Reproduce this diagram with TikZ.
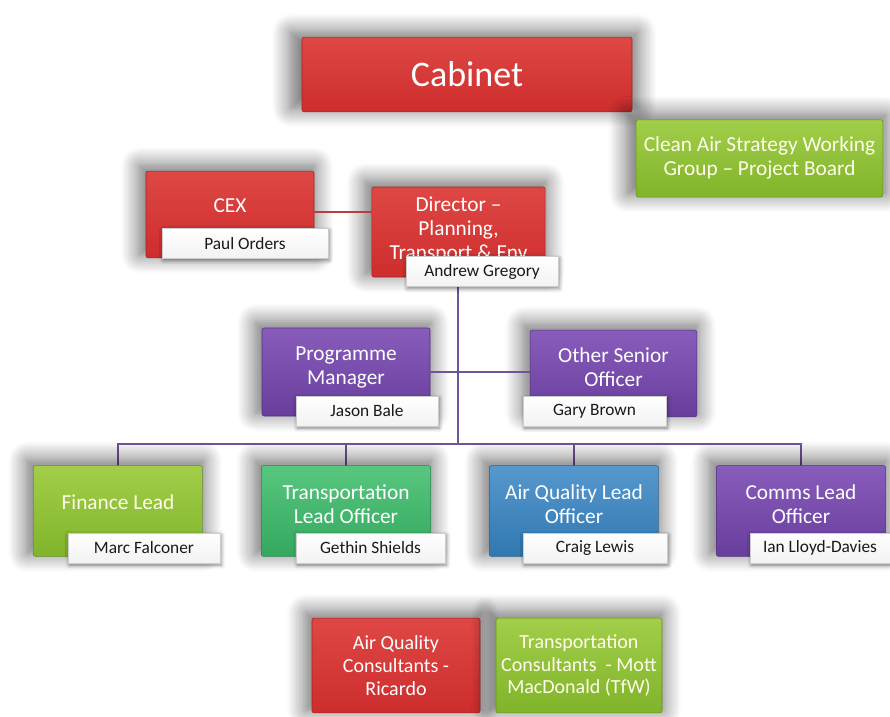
\documentclass[tikz,border=0pt]{standalone}
\usepackage{fontspec}
\setmainfont{Carlito}
\usetikzlibrary{shadows.blur}

\definecolor{boxred}{RGB}{205,45,45}
\definecolor{boxredtop}{RGB}{222,72,68}
\definecolor{boxgreen}{RGB}{128,180,42}
\definecolor{boxgreentop}{RGB}{162,206,74}
\definecolor{boxteal}{RGB}{52,168,96}
\definecolor{boxtealtop}{RGB}{88,198,126}
\definecolor{boxblue}{RGB}{48,120,176}
\definecolor{boxbluetop}{RGB}{86,152,206}
\definecolor{boxpurple}{RGB}{104,62,156}
\definecolor{boxpurpletop}{RGB}{136,92,186}
\definecolor{linkpurple}{RGB}{112,84,152}
\definecolor{linkred}{RGB}{190,60,60}

\tikzset{
  orgbox/.style={rectangle, rounded corners=1.5pt, inner sep=2pt, align=center,
    text=white, font=\fontsize{16}{18}\selectfont,
    blur shadow={shadow blur steps=10, shadow blur radius=12pt, shadow xshift=-2pt,
      shadow yshift=3pt, shadow opacity=55, shadow scale=1.06}},
  redbox/.style={orgbox, top color=boxredtop, bottom color=boxred, draw=boxred!80!black},
  greenbox/.style={orgbox, top color=boxgreentop, bottom color=boxgreen, draw=boxgreen!80!black, text=white!92!yellow},
  tealbox/.style={orgbox, top color=boxtealtop, bottom color=boxteal, draw=boxteal!80!black},
  bluebox/.style={orgbox, top color=boxbluetop, bottom color=boxblue, draw=boxblue!80!black},
  purplebox/.style={orgbox, top color=boxpurpletop, bottom color=boxpurple, draw=boxpurple!80!black},
  namebox/.style={rectangle, inner sep=1pt, minimum height=22.5pt, text=black!90,
    top color=white, bottom color=black!5!white, draw=black!20,
    font=\fontsize{13}{15}\selectfont,
    blur shadow={shadow blur steps=5, shadow blur radius=3pt, shadow xshift=1pt,
      shadow yshift=-1.5pt, shadow opacity=45}},
  link/.style={line width=1.2pt, color=linkpurple}
}

\begin{document}
\begin{tikzpicture}[x=0.75pt,y=0.75pt,yscale=-1,xscale=1]
\useasboundingbox (0,0) rectangle (890,717);

% Connector lines
\coordinate (bus) at (458,444);
\coordinate (dirtrunk) at (458,280);
\draw [link] (dirtrunk) -- (bus);
\draw [link] (118,466) |- (bus) -| (801,466);
\draw [link] (346,466) -- (346,444);
\draw [link] (574,466) -- (574,444);

% Top level
\node [redbox, minimum width=247.5pt, minimum height=56pt, font=\fontsize{27}{30}\selectfont] (cabinet) at (467,74.5) {Cabinet};
\node [greenbox, minimum width=185pt, minimum height=58pt, text depth=4pt] (board) at (759.5,158.5) {Clean Air Strategy Working\\Group -- Project Board};

% CEX and Director
\node [redbox, minimum width=126pt, minimum height=65pt, text depth=14pt] (cex) at (230,214.5) {CEX};
\node [redbox, minimum width=130pt, minimum height=67.5pt, text depth=6pt] (director) at (458.5,232) {Director --\\Planning,\\Transport \& Env};
\draw [linkred, line width=1.4pt] (cex.east |- 0,212) -- (director.west |- 0,212);
\node [namebox, minimum width=124.5pt] (cexname) at (245,243.5) {Paul Orders};
\node [namebox, minimum width=114pt] (dirname) at (482,271.5) {Andrew Gregory};

% Second level
\node [purplebox, minimum width=126pt, minimum height=66pt, text depth=10pt] (progmgr) at (346,372) {Programme\\Manager};
\node [purplebox, minimum width=125pt, minimum height=65pt, text depth=10pt] (senior) at (613.5,373.5) {Other Senior\\Officer};
\draw [link] (progmgr.east) -- (senior.west |- progmgr.east);
\node [namebox, minimum width=106.5pt] (pmname) at (367,411) {Jason Bale};
\node [namebox, minimum width=107pt] (srname) at (594.5,411) {Gary Brown};

% Leads
\node [greenbox, minimum width=127pt, minimum height=68pt, text depth=14pt] (finance) at (118,511) {Finance Lead};
\node [tealbox, minimum width=127pt, minimum height=68pt, text depth=10pt] (transport) at (346,511) {Transportation\\Lead Officer};
\node [bluebox, minimum width=127pt, minimum height=68pt, text depth=10pt] (aqlead) at (574,511) {Air Quality Lead\\Officer};
\node [purplebox, minimum width=127pt, minimum height=68pt, text depth=10pt] (comms) at (801,511) {Comms Lead\\Officer};
\node [namebox, minimum width=114pt] (finname) at (144,548) {Marc Falconer};
\node [namebox, minimum width=112pt] (trname) at (370.5,548) {Gethin Shields};
\node [namebox, minimum width=108pt] (aqname) at (595,548) {Craig Lewis};
\node [namebox, minimum width=105pt] (comname) at (820,548) {Ian Lloyd-Davies};

% Consultants
\node [redbox, minimum width=126pt, minimum height=71pt, font=\fontsize{15}{17}\selectfont] (aqcons) at (396,665.5) {Air Quality\\Consultants -\\Ricardo};
\node [greenbox, minimum width=124.5pt, minimum height=71pt, font=\fontsize{15}{17}\selectfont] (trcons) at (579,665.5) {Transportation\\Consultants~ - Mott\\MacDonald (TfW)};

\end{tikzpicture}
\end{document}
